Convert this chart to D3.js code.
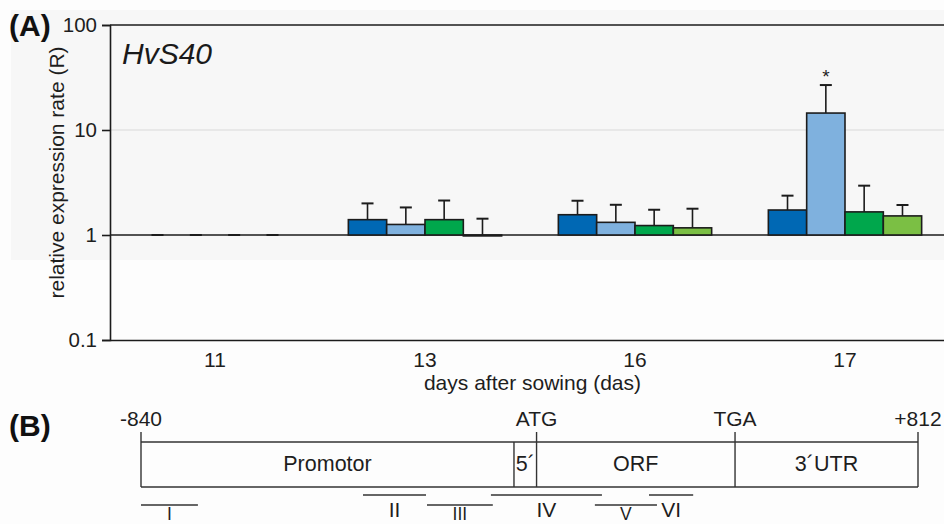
<!DOCTYPE html>
<html>
<head>
<meta charset="utf-8">
<script src="https://cdn.jsdelivr.net/npm/d3@7"></script>
<style>
  html, body { margin: 0; padding: 0; background: #fdfdfd; }
  svg { display: block; font-family: "Liberation Sans", Arial, sans-serif; }
</style>
</head>
<body>
<svg id="chart" width="944" height="524"></svg>
<script>
// ---------- DATA ----------
const days = ["11", "13", "16", "17"];
const series = ["s1", "s2", "s3", "s4"];
const seriesColors = ["#0068b4", "#7fb1de", "#00a74c", "#7bbf44"];
// mean relative expression (R) per day, one array per series
const values = {
  s1: [1, 1.40, 1.56, 1.73],
  s2: [1, 1.26, 1.32, 14.5],
  s3: [1, 1.40, 1.23, 1.66],
  s4: [1, 0.98, 1.17, 1.52]
};
// upper end of error bar (mean + SD)
const errTops = {
  s1: [1, 2.00, 2.12, 2.37],
  s2: [1, 1.83, 1.94, 26.8],
  s3: [1, 2.13, 1.74, 2.95],
  s4: [1, 1.43, 1.78, 1.93]
};
const significant = [{ day: "17", series: "s2" }];
const yTicks = [0.1, 1, 10, 100];
const yTickLabels = ["0.1", "1", "10", "100"];

// Panel B: gene structure (positions in bp)
const geneStart = -840, geneEnd = 812;
const regions = [
  { name: "Promotor", from: -840, to: -47 },
  { name: "5\u00B4", from: -47, to: 1 },
  { name: "ORF", from: 1, to: 423 },
  { name: "3\u00B4UTR", from: 423, to: 812 }
];
const markers = [
  { label: "-840", pos: -840 },
  { label: "ATG", pos: 1 },
  { label: "TGA", pos: 423 },
  { label: "+812", pos: 812 }
];
const fragments = [
  { name: "I", from: -840, to: -719 },
  { name: "II", from: -368, to: -234 },
  { name: "III", from: -232, to: -92 },
  { name: "IV", from: -96, to: 140 },
  { name: "V", from: 125, to: 257 },
  { name: "VI", from: 240, to: 334 }
];

// ---------- DRAW ----------
(function () {
const svg = d3.select("#chart");
const ink = "#1c1c1c";
const txt = "#1e1e1e";

// light background panel of A
svg.append("rect").attr("x", 11).attr("y", 10).attr("width", 933).attr("height", 250)
  .attr("fill", "#f7f7f7");

const pLeft = 110, pTop = 25, pBottom = 340;
const y = d3.scaleLog().domain([0.1, 100]).range([pBottom, pTop]);
const x0 = d3.scaleBand().domain(days).range([pLeft, 950]).paddingInner(0.27).paddingOuter(0.135);
const x1 = d3.scaleBand().domain(series).range([0, x0.bandwidth()]);

// gridline at 10
svg.append("line").attr("x1", pLeft).attr("x2", 944).attr("y1", y(10)).attr("y2", y(10))
  .attr("stroke", "#d9d9d9").attr("stroke-width", 1.2);

// Y axis
const yAxis = d3.axisLeft(y).tickValues(yTicks).tickFormat((d, i) => yTickLabels[i])
  .tickSize(8).tickPadding(5);
const gy = svg.append("g").attr("transform", `translate(${pLeft},0)`).call(yAxis);
gy.select(".domain").attr("stroke", ink).attr("stroke-width", 1.6);
gy.selectAll(".tick line").attr("stroke", ink).attr("stroke-width", 1.6);
gy.selectAll(".tick text").attr("font-size", 20.5).attr("fill", txt)
  .attr("font-family", "Liberation Sans, Arial, sans-serif");

// top line (100) and base line (1)
[100, 1].forEach(v => {
  svg.append("line").attr("x1", pLeft).attr("x2", 944).attr("y1", y(v)).attr("y2", y(v))
    .attr("stroke", ink).attr("stroke-width", 1.6);
});

// X axis
const xAxis = d3.axisBottom(x0).tickSize(0).tickPadding(12);
const gx = svg.append("g").attr("transform", `translate(0,${pBottom})`).call(xAxis);
gx.select(".domain").attr("d", `M${pLeft},0.5H944`).attr("stroke", ink).attr("stroke-width", 1.6);
gx.selectAll(".tick text").attr("font-size", 21).attr("fill", txt)
  .attr("font-family", "Liberation Sans, Arial, sans-serif");

// bars
const bars = [];
days.forEach((d, i) => series.forEach((s, j) => {
  bars.push({ day: d, s, j, v: values[s][i], e: errTops[s][i] });
}));

const g = svg.append("g");
const capW = 12;
g.selectAll("line.err").data(bars).join("line").attr("class", "err")
  .attr("x1", d => x0(d.day) + x1(d.s) + x1.bandwidth() / 2)
  .attr("x2", d => x0(d.day) + x1(d.s) + x1.bandwidth() / 2)
  .attr("y1", d => y(d.v)).attr("y2", d => y(d.e))
  .attr("stroke", ink).attr("stroke-width", 1.6);
g.selectAll("line.cap").data(bars).join("line").attr("class", "cap")
  .attr("x1", d => x0(d.day) + x1(d.s) + x1.bandwidth() / 2 - capW / 2)
  .attr("x2", d => x0(d.day) + x1(d.s) + x1.bandwidth() / 2 + capW / 2)
  .attr("y1", d => y(d.e)).attr("y2", d => y(d.e))
  .attr("stroke", ink).attr("stroke-width", 2);
g.selectAll("rect.bar").data(bars).join("rect").attr("class", "bar")
  .attr("x", d => x0(d.day) + x1(d.s))
  .attr("width", x1.bandwidth())
  .attr("y", d => Math.min(y(d.v), y(1)))
  .attr("height", d => Math.abs(y(1) - y(d.v)))
  .attr("fill", d => seriesColors[d.j])
  .attr("stroke", ink).attr("stroke-width", 1.6);

// significance asterisk
significant.forEach(sg => {
  const i = days.indexOf(sg.day);
  svg.append("text")
    .attr("x", x0(sg.day) + x1(sg.series) + x1.bandwidth() / 2)
    .attr("y", y(errTops[sg.series][i]) - 2)
    .attr("text-anchor", "middle").attr("font-size", 19).attr("fill", txt).text("*");
});

// titles / labels panel A
svg.append("text").attr("x", 9).attr("y", 35.5).attr("font-size", 30).attr("font-weight", "bold")
  .attr("fill", "#111").text("(A)");
svg.append("text").attr("x", 122).attr("y", 64).attr("font-size", 30).attr("font-style", "italic")
  .attr("fill", "#1a1a1a").text("HvS40");
svg.append("text").attr("transform", "translate(64,172.5) rotate(-90)")
  .attr("text-anchor", "middle").attr("font-size", 21).attr("fill", txt)
  .text("relative expression rate (R)");
svg.append("text").attr("x", 532.5).attr("y", 390).attr("text-anchor", "middle")
  .attr("font-size", 21).attr("fill", txt).text("days after sowing (das)");

// ---------- PANEL B ----------
const gxs = d3.scaleLinear().domain([geneStart, geneEnd]).range([141, 918]);
const boxTop = 442, boxBot = 487, tickTop = 432;
const bline = "#333";
svg.append("text").attr("x", 9).attr("y", 435.5).attr("font-size", 30).attr("font-weight", "bold")
  .attr("fill", "#111").text("(B)");

const gb = svg.append("g");
gb.append("line").attr("x1", gxs(geneStart)).attr("x2", gxs(geneEnd)).attr("y1", boxTop).attr("y2", boxTop)
  .attr("stroke", bline).attr("stroke-width", 1.4);
gb.append("line").attr("x1", gxs(geneStart)).attr("x2", gxs(geneEnd)).attr("y1", boxBot).attr("y2", boxBot)
  .attr("stroke", bline).attr("stroke-width", 1.4);
const bounds = Array.from(new Set(regions.flatMap(r => [r.from, r.to])));
gb.selectAll("line.bd").data(bounds).join("line").attr("class", "bd")
  .attr("x1", d => gxs(d)).attr("x2", d => gxs(d))
  .attr("y1", d => markers.some(m => m.pos === d) ? tickTop : boxTop).attr("y2", boxBot)
  .attr("stroke", bline).attr("stroke-width", 1.4);
gb.selectAll("text.reg").data(regions).join("text").attr("class", "reg")
  .attr("x", d => (gxs(d.from) + gxs(d.to)) / 2).attr("y", 471)
  .attr("text-anchor", "middle").attr("font-size", 21.5).attr("fill", txt).text(d => d.name);
gb.selectAll("text.mk").data(markers).join("text").attr("class", "mk")
  .attr("x", d => gxs(d.pos)).attr("y", 425.5)
  .attr("text-anchor", "middle").attr("font-size", 21).attr("fill", txt).text(d => d.label);
gb.selectAll("line.fr").data(fragments).join("line").attr("class", "fr")
  .attr("x1", d => gxs(d.from)).attr("x2", d => gxs(d.to))
  .attr("y1", (d, i) => i % 2 ? 495 : 505).attr("y2", (d, i) => i % 2 ? 495 : 505)
  .attr("stroke", bline).attr("stroke-width", 1.4);
gb.selectAll("text.fr").data(fragments).join("text").attr("class", "fr")
  .attr("x", d => (gxs(d.from) + gxs(d.to)) / 2)
  .attr("y", (d, i) => i % 2 ? 516.5 : 520)
  .attr("text-anchor", "middle")
  .attr("font-size", (d, i) => i % 2 ? 21 : 17.5)
  .attr("fill", txt).text(d => d.name);
})();
</script>
</body>
</html>
